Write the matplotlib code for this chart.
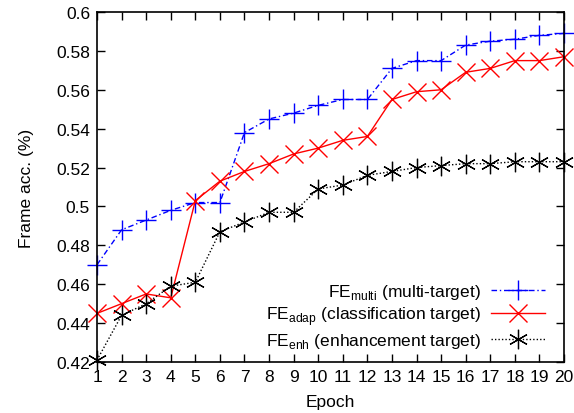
import numpy as np
import matplotlib
matplotlib.use("Agg")
import matplotlib.pyplot as plt

plt.rcParams['font.family'] = ['Liberation Sans', 'DejaVu Sans']
plt.rcParams['mathtext.fontset'] = 'custom'
plt.rcParams['mathtext.rm'] = 'Liberation Sans'

epochs = list(range(1, 21))
fe_multi = [0.470, 0.488, 0.493, 0.498, 0.502, 0.502, 0.538, 0.545, 0.548, 0.552,
            0.555, 0.555, 0.571, 0.575, 0.575, 0.583, 0.585, 0.586, 0.588, 0.589]
fe_adap = [0.445, 0.450, 0.455, 0.453, 0.503, 0.513, 0.518, 0.522, 0.527, 0.530,
           0.534, 0.536, 0.555, 0.559, 0.560, 0.569, 0.571, 0.575, 0.575, 0.577]
fe_enh = [0.421, 0.444, 0.450, 0.459, 0.461, 0.487, 0.492, 0.497, 0.497, 0.509,
          0.511, 0.516, 0.518, 0.520, 0.521, 0.522, 0.522, 0.523, 0.523, 0.523]
labels = [r'FE$_{\rm multi}$ (multi-target)',
          r'FE$_{\rm adap}$ (classification target)',
          r'FE$_{\rm enh}$ (enhancement target)']
yticks = [0.42, 0.44, 0.46, 0.48, 0.5, 0.52, 0.54, 0.56, 0.58, 0.6]

fs = 12.5
fig = plt.figure(figsize=(5.74, 4.14), dpi=100)
ax = fig.add_axes([0.169, 0.1232, 0.9826 - 0.169, 0.9686 - 0.1232])

# asterisk marker like gnuplot pt 3
ast = (6, 2, 0)
ax.plot(epochs, fe_multi, color='#0000ff', ls=(0, (4, 2, 1, 2)), lw=1,
        marker='+', ms=14, mew=1, clip_on=False, label=labels[0])
ax.plot(epochs, fe_adap, color='#ff0000', ls='-', lw=1,
        marker='x', ms=13, mew=1, clip_on=False, label=labels[1])
ax.plot(epochs, fe_enh, color='black', ls=(0, (1, 1.5)), lw=1,
        marker=ast, ms=14, mew=0.9, clip_on=False, label=labels[2])

ax.set_xlim(1, 20)
ax.set_ylim(0.42, 0.6)
ax.set_xticks(epochs)
ax.set_yticks(yticks)
ax.set_yticklabels(['%g' % v for v in yticks])
ax.tick_params(direction='in', top=True, right=True, length=6, width=1,
               labelsize=fs, pad=5)
for s in ax.spines.values():
    s.set_linewidth(1.2)
ax.set_xlabel('Epoch', fontsize=fs, labelpad=7)
ax.set_ylabel('Frame acc. (%)', fontsize=fs, labelpad=16)

ax.legend(loc='lower right', bbox_to_anchor=(0.985, 0.0), frameon=False,
          markerfirst=False, fontsize=fs, handlelength=3.1, labelspacing=0.2,
          handletextpad=0.6, borderaxespad=0.3)

fig.savefig('out.png', dpi=100)
